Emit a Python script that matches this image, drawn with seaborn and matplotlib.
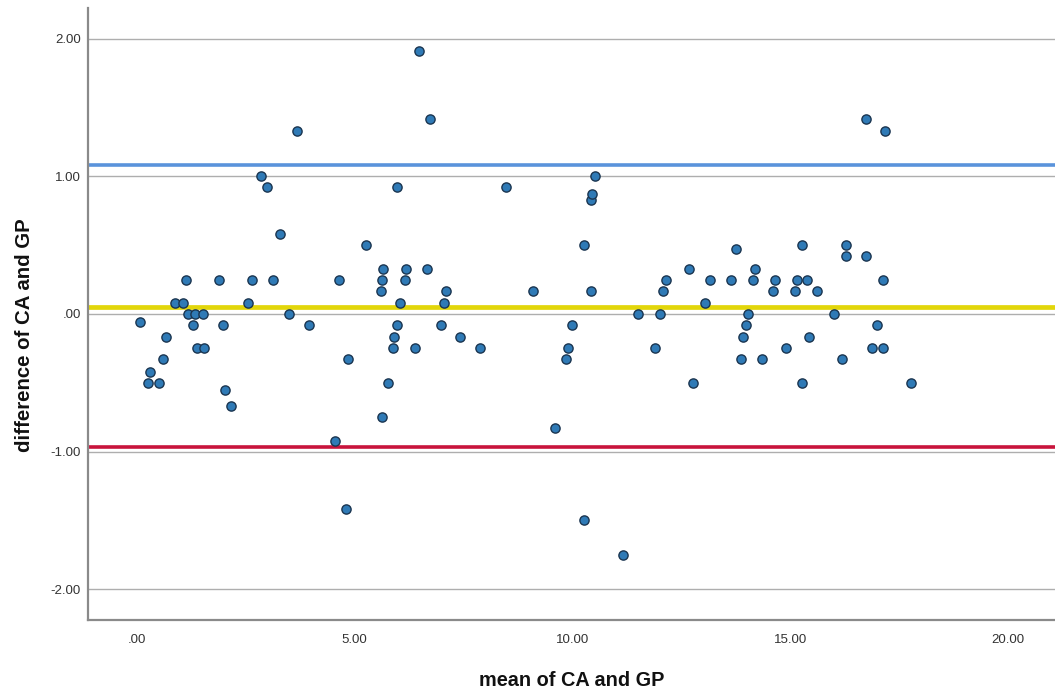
import matplotlib
matplotlib.use("Agg")
import matplotlib.pyplot as plt
import seaborn as sns
import pandas as pd

# Bland-Altman data: mean of the two methods vs. their difference
mean_ca_gp = [
    0.07, 0.26, 0.30, 0.50, 0.59, 0.67, 0.87, 1.05, 1.12, 1.16,
    1.33, 1.52, 1.29, 1.37, 1.55, 1.89, 1.97, 2.02, 2.17, 2.54,
    2.63, 2.84, 2.98, 3.13, 3.29, 3.50, 3.67, 3.96, 4.55, 4.64,
    4.80, 4.84, 5.25, 5.60, 5.63, 5.66, 5.63, 5.76, 5.87, 5.91,
    5.98, 5.97, 6.05, 6.15, 6.18, 6.48, 6.72, 6.67, 7.10, 7.04,
    6.97, 6.38, 7.42, 7.88, 8.47, 9.10, 9.60, 9.84, 9.89, 9.98,
    10.27, 10.26, 10.42, 10.42, 10.45, 10.52, 11.15, 11.51, 12.01, 11.89,
    12.09, 12.14, 12.68, 12.76, 13.05, 13.15, 13.64, 13.75, 14.14, 14.18,
    14.60, 14.65, 15.11, 15.15, 15.28, 15.39, 15.61, 16.27, 16.29, 16.73,
    16.73, 17.18, 17.14, 14.02, 13.98, 13.92, 13.86, 14.35, 14.90, 15.27,
    15.43, 16.01, 16.19, 16.88, 17.14, 16.99, 17.77,
]
diff_ca_gp = [
    -0.06, -0.50, -0.42, -0.50, -0.33, -0.17, 0.08, 0.08, 0.25, 0.00,
    0.00, 0.00, -0.08, -0.25, -0.25, 0.25, -0.08, -0.55, -0.67, 0.08,
    0.25, 1.00, 0.92, 0.25, 0.58, 0.00, 1.33, -0.08, -0.92, 0.25,
    -1.42, -0.33, 0.50, 0.17, 0.25, 0.33, -0.75, -0.50, -0.25, -0.17,
    -0.08, 0.92, 0.08, 0.25, 0.33, 1.91, 1.42, 0.33, 0.17, 0.08,
    -0.08, -0.25, -0.17, -0.25, 0.92, 0.17, -0.83, -0.33, -0.25, -0.08,
    0.50, -1.50, 0.17, 0.83, 0.87, 1.00, -1.75, 0.00, 0.00, -0.25,
    0.17, 0.25, 0.33, -0.50, 0.08, 0.25, 0.25, 0.47, 0.25, 0.33,
    0.17, 0.25, 0.17, 0.25, 0.50, 0.25, 0.17, 0.42, 0.50, 0.42,
    1.42, 1.33, 0.25, 0.00, -0.08, -0.17, -0.33, -0.33, -0.25, -0.50,
    -0.17, 0.00, -0.33, -0.25, -0.25, -0.08, -0.50,
]

# Mean difference and limits of agreement
upper_loa = 1.08
mean_diff = 0.05
lower_loa = -0.97

x_ticks = [0, 5, 10, 15, 20]
x_tick_labels = [".00", "5.00", "10.00", "15.00", "20.00"]
y_ticks = [2, 1, 0, -1, -2]
y_tick_labels = ["2.00", "1.00", ".00", "-1.00", "-2.00"]

df = pd.DataFrame({"mean of CA and GP": mean_ca_gp,
                   "difference of CA and GP": diff_ca_gp})

sns.set_style("white")
plt.rcParams["font.family"] = ["Liberation Sans", "DejaVu Sans"]

W, H = 1055, 691
fig = plt.figure(figsize=(W / 100, H / 100), dpi=100)
ax = fig.add_axes([88 / W, 1 - 620 / H, (W - 88) / W, (620 - 8) / H])

# reference grid at each y tick
for yv in y_ticks:
    ax.axhline(yv, color="#aeaeae", lw=1.0, zorder=1)

ax.axhline(upper_loa, color="#5a93db", lw=2.6, zorder=2)
ax.axhline(mean_diff, color="#e2d60a", lw=3.4, zorder=2)
ax.axhline(lower_loa, color="#c8143c", lw=2.6, zorder=2)

sns.scatterplot(data=df, x="mean of CA and GP", y="difference of CA and GP",
                ax=ax, s=44, color="#2f7ab6", edgecolor="#1a3550",
                linewidth=1.0, zorder=3)

ax.set_xlim(-1.125, 21.08)
ax.set_ylim(-2.225, 2.225)
ax.set_xticks(x_ticks)
ax.set_xticklabels(x_tick_labels)
ax.set_yticks(y_ticks)
ax.set_yticklabels(y_tick_labels)
ax.tick_params(axis="both", length=0, labelsize=9.5, labelcolor="#333333")
ax.tick_params(axis="x", pad=10)
ax.tick_params(axis="y", pad=5)

for side in ("top", "right"):
    ax.spines[side].set_visible(False)
for side in ("left", "bottom"):
    ax.spines[side].set_color("#8a8a8a")
    ax.spines[side].set_linewidth(1.6)

ax.set_xlabel("mean of CA and GP", fontsize=14.3, fontweight="bold",
              labelpad=18, color="#111111")
ax.set_ylabel("difference of CA and GP", fontsize=14.7, fontweight="bold",
              labelpad=12, color="#111111", y=0.466)

fig.savefig("out.png", dpi=100, facecolor="white")
